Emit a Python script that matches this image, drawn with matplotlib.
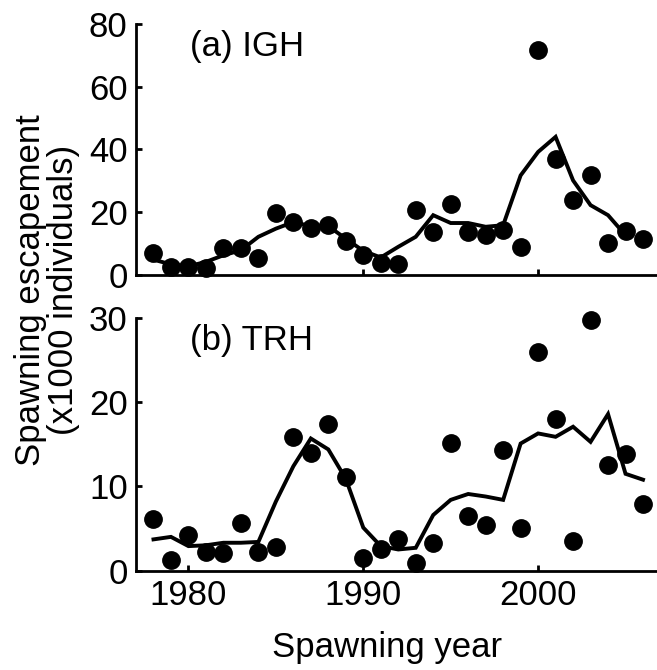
import matplotlib
matplotlib.use("Agg")
import matplotlib.pyplot as plt
import numpy as np

plt.rcParams["font.family"] = ["Liberation Sans", "DejaVu Sans"]

# ---- Data ----------------------------------------------------------------
years = np.arange(1978, 2007)

# IGH: observed escapement (x1000) and smoothed trend (1978-2005)
igh_obs = [6.8, 2.5, 2.5, 2.0, 8.4, 8.4, 5.2, 19.7, 16.8, 14.9,
           16.0, 10.8, 6.2, 3.6, 3.3, 20.8, 13.5, 22.7, 13.5, 12.8,
           14.4, 8.9, 71.6, 36.8, 23.7, 31.9, 10.1, 13.8, 11.3]
igh_trend = [4.8, 3.3, 2.7, 4.1, 6.2, 7.8, 12.1, 14.7, 16.8, 15.5,
             15.5, 11.5, 7.6, 5.5, 8.9, 12.1, 19.0, 16.5, 16.5, 15.3,
             15.8, 31.7, 39.2, 44.0, 30.1, 22.2, 19.0, 12.6]

# TRH: observed escapement (x1000) and smoothed trend (1978-2006)
trh_obs = [6.1, 1.3, 4.2, 2.2, 2.1, 5.6, 2.2, 2.8, 15.9, 14.0,
           17.4, 11.1, 1.5, 2.6, 3.8, 0.9, 3.3, 15.2, 6.5, 5.4,
           14.3, 5.0, 26.0, 18.0, 3.5, 29.8, 12.5, 13.9, 7.9]
trh_trend = [3.7, 4.0, 2.9, 3.0, 3.3, 3.3, 3.4, 8.2, 12.4, 15.7,
             14.4, 10.9, 5.1, 2.9, 2.5, 2.7, 6.6, 8.4, 9.1, 8.8,
             8.4, 15.1, 16.3, 15.9, 17.1, 15.3, 18.6, 11.5, 10.8]

panels = [
    ("(a) IGH", igh_obs, igh_trend, (0, 80), [0, 20, 40, 60, 80], 72.7),
    ("(b) TRH", trh_obs, trh_trend, (0, 30), [0, 10, 20, 30], 27.4),
]

# ---- Figure setup --------------------------------------------------------
fig = plt.figure(figsize=(6.57, 6.70), dpi=100)
ax_top = fig.add_axes([0.207, 0.590, 0.793, 0.374])
ax_bot = fig.add_axes([0.207, 0.1485, 0.793, 0.3765])

FS = 25

for ax, (label, obs, trend, ylim, yticks, ylab) in zip((ax_top, ax_bot), panels):
    ax.plot(years[:len(trend)], trend, color="black", linewidth=2.8,
            solid_joinstyle="miter", zorder=2)
    ax.plot(years, obs, linestyle="none", marker="o", markersize=12.5,
            color="black", zorder=2.2, clip_on=False)

    ax.set_xlim(1977, 2006.8)
    ax.set_ylim(*ylim)
    ax.set_yticks(yticks)
    ax.set_xticks([1980, 1990, 2000])
    ax.text(1980.1, ylab, label, fontsize=FS, ha="left", va="center")

    for spine in ("top", "right"):
        ax.spines[spine].set_visible(False)
    for spine in ("left", "bottom"):
        ax.spines[spine].set_linewidth(2.0)
    ax.tick_params(direction="in", length=4, width=2.0,
                   labelsize=FS, pad=6)

ax_top.tick_params(axis="x", labelbottom=False)

fig.text(0.072, 0.567, "Spawning escapement\n(x1000 individuals)",
         rotation=90, ha="center", va="center", fontsize=FS,
         linespacing=1.0)
fig.text(0.589, 0.034, "Spawning year", ha="center", va="center",
         fontsize=FS)

fig.savefig("out.png", dpi=100)
